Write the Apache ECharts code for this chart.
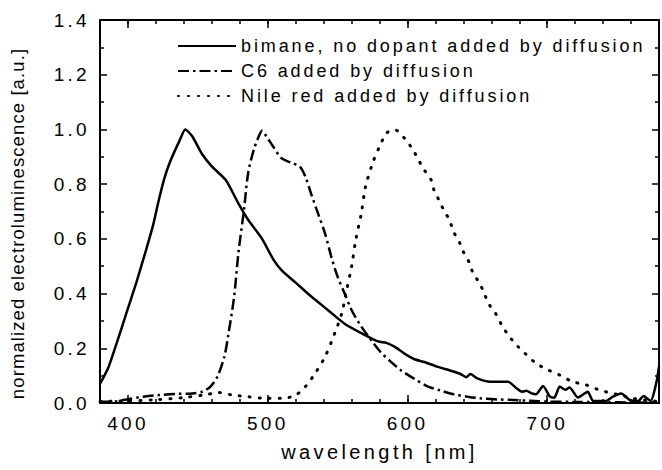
<!DOCTYPE html>
<html>
<head>
<meta charset="utf-8">
<script src="https://cdn.jsdelivr.net/npm/echarts@6/dist/echarts.min.js"></script>
<style>
  html, body { margin: 0; padding: 0; background: #fff; }
  #chart { width: 662px; height: 470px; }
  #chart text { letter-spacing: 2.9px; }
  #chart text[style*="18.5px"] { letter-spacing: 1.1px; }
  #chart text[style*="19px"] { letter-spacing: 3.3px; }
  #chart text[style*="20px"] { letter-spacing: 3.4px; }
</style>
</head>
<body>
<div id="chart"></div>
<script>
// ---- data ----
var seriesNames = ['bimane, no dopant added by diffusion', 'C6 added by diffusion', 'Nile red added by diffusion'];

var bimaneWl = [380,386,392,399,406,413,418,422,426,430,437,441,446,453,460,470,479,486,496,504,510,520,531,543,555,569,579,585,591,598,605,612,621,631,638,642,645,650,659,672,678,682,685,689,692,697,702,705,709,713,716,722,729,733,742,747,753,759,765,769,774,778,780];
var bimaneVal = [0.07,0.13,0.22,0.33,0.44,0.56,0.65,0.74,0.82,0.88,0.96,1.00,0.975,0.91,0.865,0.815,0.73,0.67,0.60,0.525,0.485,0.44,0.39,0.34,0.29,0.25,0.225,0.22,0.205,0.18,0.16,0.15,0.133,0.118,0.106,0.094,0.106,0.09,0.078,0.078,0.054,0.041,0.045,0.035,0.032,0.062,0.023,0.019,0.06,0.048,0.057,0.02,0.041,0.007,0.007,0.023,0.035,0.011,0.007,0.026,0.007,0.072,0.133];

var c6Wl = [380,389,399,411,422,434,446,453,459,464,469,472,476,479,483,486,490,493.5,496,499,504,510,517,523,527,531,536,541,545.5,550,555,560,567,574,581,588,595,605,614,624,633,643,652,664,676,688,700,720,740,760,780];
var c6Val = [0.005,0.005,0.013,0.023,0.029,0.033,0.035,0.041,0.06,0.096,0.17,0.255,0.39,0.547,0.705,0.84,0.925,0.973,0.995,0.975,0.937,0.894,0.878,0.864,0.827,0.766,0.693,0.62,0.535,0.462,0.401,0.34,0.279,0.23,0.185,0.151,0.121,0.088,0.062,0.045,0.032,0.023,0.017,0.013,0.011,0.008,0.005,0.004,0.003,0.002,0.002];

var nileWl = [380,400,420,440,455,465,475,486,498,510,520,527,534,541,548,553,556,560,563,567,570,575,580,585,590.5,598,604,608,612,617,619,622.5,626,630,633,637,640,644,647,651,654.5,658,663,667.5,672,678,684,692,700.6,709,718,728,737,744.5,752,761,770,780];
var nileVal = [0.005,0.008,0.012,0.02,0.03,0.038,0.029,0.023,0.017,0.017,0.029,0.06,0.109,0.169,0.255,0.328,0.401,0.498,0.596,0.693,0.79,0.876,0.937,0.986,1.0,0.967,0.925,0.888,0.852,0.815,0.778,0.742,0.705,0.669,0.626,0.59,0.553,0.516,0.474,0.443,0.407,0.364,0.328,0.285,0.249,0.212,0.182,0.145,0.121,0.102,0.078,0.066,0.048,0.038,0.029,0.017,0.011,0.005];

var xMajorTicks = [400, 500, 600, 700];
var xLabels = ['400', '500', '600', '700'];

// ---- chart ----
function pairs(xs, ys) { return xs.map(function (x, i) { return [x, ys[i]]; }); }

var FONT = "'Liberation Sans', Arial, Helvetica, sans-serif";
var INK = '#000';

var chart = echarts.init(document.getElementById('chart'), null, { renderer: 'svg' });

var baseX = { type: 'value', min: 380, max: 780, gridIndex: 0, splitLine: { show: false } };

chart.setOption({
  animation: false,
  backgroundColor: '#fff',
  grid: { left: 97, right: 3, top: 20, bottom: 67, containLabel: false },
  textStyle: { fontFamily: FONT, color: INK },
  legend: {
    orient: 'vertical', left: 172, top: 32,
    itemWidth: 58, itemHeight: 22, itemGap: 7,
    data: seriesNames,
    itemStyle: { opacity: 0 },
    textStyle: { fontFamily: FONT, fontSize: 18, color: INK },
    inactiveColor: INK
  },
  xAxis: [
    Object.assign({}, baseX, {
      position: 'bottom', interval: 20,
      name: 'wavelength [nm]', nameLocation: 'middle', nameGap: 39,
      nameTextStyle: { fontFamily: FONT, fontSize: 20, color: INK },
      axisLine: { show: true, lineStyle: { color: INK, width: 2 } },
      axisTick: { show: true, inside: true, length: 4, lineStyle: { color: INK, width: 1.5 } },
      axisLabel: { show: true, margin: 11, fontFamily: FONT, fontSize: 19, color: INK,
        formatter: function (v) { var i = xMajorTicks.indexOf(v); return i >= 0 ? xLabels[i] : ''; } }
    }),
    Object.assign({}, baseX, {
      position: 'bottom',
      axisLine: { show: false },
      axisTick: { show: true, inside: true, length: 8, customValues: xMajorTicks, lineStyle: { color: INK, width: 1.5 } },
      axisLabel: { show: false }
    }),
    Object.assign({}, baseX, {
      position: 'top', interval: 20,
      axisLine: { show: true, lineStyle: { color: INK, width: 2 } },
      axisTick: { show: true, inside: true, length: 4, lineStyle: { color: INK, width: 1.5 } },
      axisLabel: { show: false }
    }),
    Object.assign({}, baseX, {
      position: 'top',
      axisLine: { show: false },
      axisTick: { show: true, inside: true, length: 8, customValues: xMajorTicks, lineStyle: { color: INK, width: 1.5 } },
      axisLabel: { show: false }
    })
  ],
  yAxis: [
    {
      type: 'value', min: 0, max: 1.4, interval: 0.2, position: 'left',
      name: 'normalized electroluminescence [a.u.]', nameLocation: 'middle', nameGap: 73,
      nameTextStyle: { fontFamily: FONT, fontSize: 18.5, color: INK, padding: [0, 24, 0, 0] },
      splitLine: { show: false },
      axisLine: { show: true, lineStyle: { color: INK, width: 2 } },
      axisTick: { show: true, inside: true, length: 7, lineStyle: { color: INK, width: 1.5 } },
      minorTick: { show: true, splitNumber: 2, length: 4, lineStyle: { color: INK, width: 1.5 } },
      axisLabel: { show: true, margin: 10, fontFamily: FONT, fontSize: 19, color: INK,
        formatter: function (v) { return v.toFixed(1); } }
    },
    {
      type: 'value', min: 0, max: 1.4, interval: 0.2, position: 'right',
      splitLine: { show: false },
      axisLine: { show: true, lineStyle: { color: INK, width: 2 } },
      axisTick: { show: true, inside: true, length: 7, lineStyle: { color: INK, width: 1.5 } },
      minorTick: { show: true, splitNumber: 2, length: 4, lineStyle: { color: INK, width: 1.5 } },
      axisLabel: { show: false }
    }
  ],
  series: [
    {
      name: seriesNames[0], type: 'line', xAxisIndex: 0, yAxisIndex: 0,
      symbol: 'none', smooth: 0.2, color: INK,
      lineStyle: { color: INK, width: 2.5, type: 'solid' },
      data: pairs(bimaneWl, bimaneVal)
    },
    {
      name: seriesNames[1], type: 'line', xAxisIndex: 0, yAxisIndex: 0,
      symbol: 'none', smooth: 0.3, color: INK,
      lineStyle: { color: INK, width: 2.5, type: [11, 4, 2.5, 4] },
      data: pairs(c6Wl, c6Val)
    },
    {
      name: seriesNames[2], type: 'line', xAxisIndex: 0, yAxisIndex: 0,
      symbol: 'none', smooth: 0.3, color: INK,
      lineStyle: { color: INK, width: 3, type: [1, 9], cap: 'round' },
      data: pairs(nileWl, nileVal)
    }
  ]
});
</script>
</body>
</html>
